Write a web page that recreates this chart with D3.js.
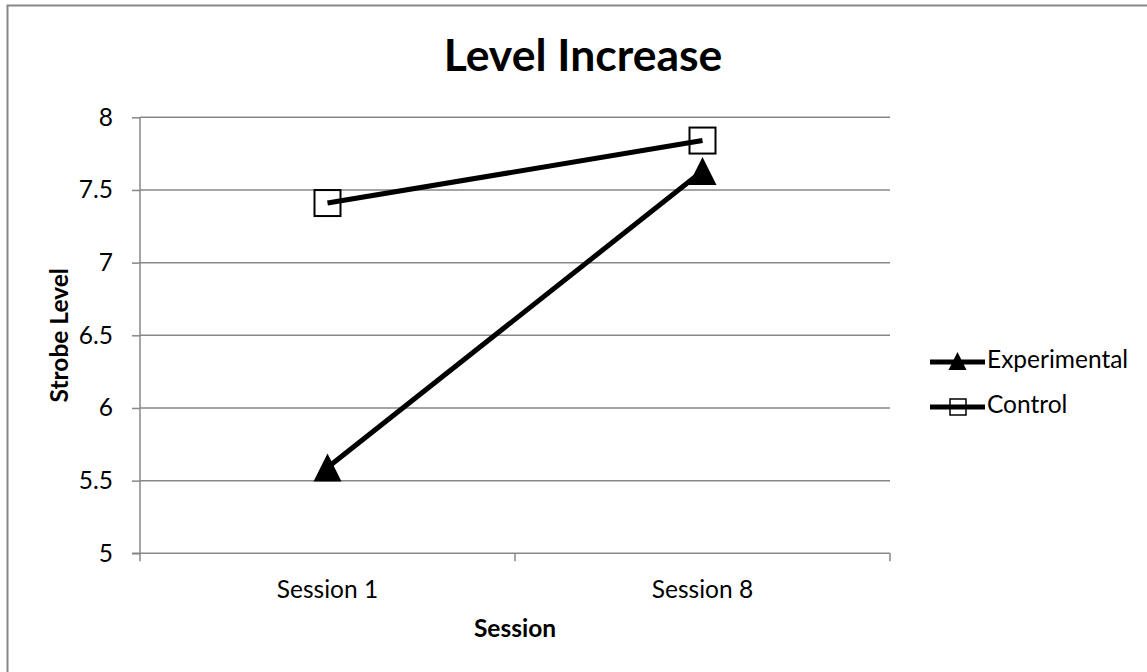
<!DOCTYPE html>
<html>
<head>
<meta charset="utf-8">
<script src="https://cdn.jsdelivr.net/npm/d3@7"></script>
<style>
  html, body { margin: 0; padding: 0; background: #fff; }
  svg { display: block; font-family: Lato, "Open Sans", sans-serif; }
</style>
</head>
<body>
<svg id="chart" width="1147" height="672"></svg>
<script>
// Chart data
const sessions = ["Session 1", "Session 8"];
const experimental = [5.59, 7.63];
const control = [7.41, 7.84];
const yTicks = [5, 5.5, 6, 6.5, 7, 7.5, 8];
const seriesNames = ["Experimental", "Control"];

const svg = d3.select("#chart");
const W = 1147, H = 672;
const margin = { left: 140, right: 257, top: 117.3, bottom: 118.7 };
const plotW = W - margin.left - margin.right;   // 750
const plotH = H - margin.top - margin.bottom;   // 436

const grey = "#878787";
const fs = 24.5;

// Outer chart frame
svg.append("rect")
  .attr("x", 7.5).attr("y", 5.5)
  .attr("width", W).attr("height", H)
  .attr("fill", "none").attr("stroke", grey).attr("stroke-width", 2);

const x = d3.scaleBand().domain(sessions).range([0, plotW]);
const y = d3.scaleLinear().domain([5, 8]).range([plotH, 0]);

const g = svg.append("g").attr("transform", `translate(${margin.left},${margin.top})`);

// Horizontal gridlines
g.append("g").selectAll("line").data(yTicks.filter(d => d !== 5)).join("line")
  .attr("x1", 0).attr("x2", plotW)
  .attr("y1", d => y(d)).attr("y2", d => y(d))
  .attr("stroke", grey).attr("stroke-width", 1.5);

// Y axis
const yAxis = g.append("g")
  .call(d3.axisLeft(y).tickValues(yTicks).tickSize(8).tickPadding(19)
    .tickFormat(d => d3.format("")(d)));
yAxis.select(".domain").attr("stroke", grey).attr("stroke-width", 1.5).attr("d", `M0,0V${plotH}`);
yAxis.selectAll(".tick line").attr("stroke", grey).attr("stroke-width", 1.5);
yAxis.selectAll(".tick text").attr("font-size", fs).attr("fill", "#000")
  .attr("font-family", "Lato, sans-serif");

// X axis with ticks at band boundaries
const xAxisG = g.append("g").attr("transform", `translate(0,${plotH})`);
xAxisG.append("line").attr("x1", -8).attr("x2", plotW).attr("y1", 0).attr("y2", 0)
  .attr("stroke", grey).attr("stroke-width", 1.5);
const boundaries = [0, ...sessions.map(s => x(s) + x.bandwidth())];
xAxisG.selectAll("line.tk").data(boundaries).join("line").attr("class", "tk")
  .attr("x1", d => d).attr("x2", d => d).attr("y1", 0).attr("y2", 8)
  .attr("stroke", grey).attr("stroke-width", 1.5);
xAxisG.selectAll("text").data(sessions).join("text")
  .attr("x", d => x(d) + x.bandwidth() / 2).attr("y", 45)
  .attr("text-anchor", "middle").attr("font-size", fs).attr("fill", "#000")
  .text(d => d);

// Titles
svg.append("text").attr("x", 583).attr("y", 71)
  .attr("text-anchor", "middle").attr("font-size", 44.5).attr("font-weight", "bold")
  .text("Level Increase");
svg.append("text").attr("x", margin.left + plotW / 2).attr("y", 637)
  .attr("text-anchor", "middle").attr("font-size", fs).attr("font-weight", "bold")
  .text("Session");
svg.append("text")
  .attr("transform", `translate(68,${margin.top + plotH / 2}) rotate(-90)`)
  .attr("text-anchor", "middle").attr("font-size", fs).attr("font-weight", "bold")
  .text("Strobe Level");

// Series lines and markers
const cx = d => x(d) + x.bandwidth() / 2;
const line = d3.line().x(d => cx(d.s)).y(d => y(d.v));
const expPts = sessions.map((s, i) => ({ s, v: experimental[i] }));
const ctlPts = sessions.map((s, i) => ({ s, v: control[i] }));

function triPath(w) {
  const h = w;
  return `M0,${-h / 2}L${w / 2},${h / 2}L${-w / 2},${h / 2}Z`;
}

g.append("path").datum(expPts).attr("d", line)
  .attr("fill", "none").attr("stroke", "#000").attr("stroke-width", 5);
g.append("path").datum(ctlPts).attr("d", line)
  .attr("fill", "none").attr("stroke", "#000").attr("stroke-width", 5);

g.selectAll("path.tri").data(expPts).join("path").attr("class", "tri")
  .attr("transform", d => `translate(${cx(d.s)},${y(d.v)})`)
  .attr("d", triPath(28)).attr("fill", "#000");
g.selectAll("rect.sq").data(ctlPts).join("rect").attr("class", "sq")
  .attr("x", d => cx(d.s) - 13).attr("y", d => y(d.v) - 13)
  .attr("width", 26).attr("height", 26)
  .attr("fill", "none").attr("stroke", "#000").attr("stroke-width", 2);

// Legend
const legend = svg.append("g").attr("transform", "translate(930,0)");
const rows = legend.selectAll("g").data(seriesNames).join("g")
  .attr("transform", (d, i) => `translate(0,${[362, 407][i]})`);
rows.append("line").attr("x1", 0).attr("x2", 55).attr("y1", 0).attr("y2", 0)
  .attr("stroke", "#000").attr("stroke-width", 5);
rows.filter((d, i) => i === 0).append("path")
  .attr("transform", "translate(27.5,-1)").attr("d", triPath(18)).attr("fill", "#000");
rows.filter((d, i) => i === 1).append("rect")
  .attr("x", 20).attr("y", -8).attr("width", 16).attr("height", 16)
  .attr("fill", "none").attr("stroke", "#000").attr("stroke-width", 1.5);
rows.append("text").attr("x", 57).attr("y", 6).attr("font-size", fs).text(d => d);
</script>
</body>
</html>
